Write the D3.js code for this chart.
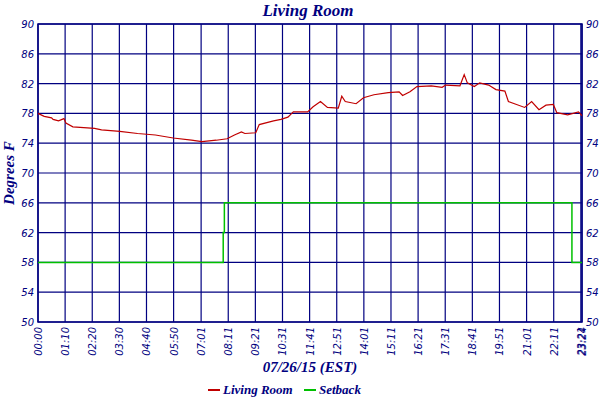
<!DOCTYPE html>
<html><head><meta charset="utf-8">
<script src="https://cdn.jsdelivr.net/npm/d3@7"></script>
<style>body{margin:0;background:#fff}</style>
</head><body><svg id="c" width="600" height="400"></svg>
<script>
const tempMinutes=[0,16,35,39,53,67,72,90,118,146,164,211,257,303,349,396,423,460,488,507,525,534,562,571,608,627,645,659,696,710,729,747,775,784,793,821,840,867,904,932,941,960,978,1015,1043,1052,1089,1100,1108,1126,1140,1163,1182,1205,1214,1256,1274,1293,1311,1330,1339,1367,1395,1404];
const tempValues=[78.0,77.6,77.4,77.2,77.0,77.3,76.7,76.2,76.1,76.0,75.8,75.6,75.3,75.1,74.7,74.4,74.2,74.4,74.6,75.1,75.5,75.3,75.4,76.5,77.0,77.2,77.5,78.2,78.2,78.9,79.6,78.8,78.7,80.3,79.6,79.3,80.1,80.5,80.8,80.9,80.4,80.9,81.6,81.7,81.5,81.8,81.7,83.2,82.1,81.6,82.1,81.8,81.2,81.0,79.6,78.8,79.6,78.5,79.1,79.2,78.1,77.8,78.2,77.7];
const setbackMinutes=[0,477,478,481,1377,1378,1404];
const setbackValues=[58,58,62,66,66,58,58];
const xTickLabels=["00:00","01:10","02:20","03:30","04:40","05:50","07:01","08:11","09:21","10:31","11:41","12:51","14:01","15:11","16:21","17:31","18:41","19:51","21:01","22:11","23:21","23:24"];
const yTicks=[50,54,58,62,66,70,74,78,82,86,90];
const navy="#000080";
const svg=d3.select("#c");
const L=38,R=582,T=24,B=322;
const toMin=s=>{const[a,b]=s.split(":").map(Number);return a*60+b;};
const x=d3.scaleLinear().domain([0,1404]).range([L,R]);
const y=d3.scaleLinear().domain([50,90]).range([B,T]);
const g=svg.append("g");
g.selectAll(".hy").data(yTicks).join("line").attr("x1",L).attr("x2",R).attr("y1",d=>y(d)).attr("y2",d=>y(d)).attr("stroke",navy).attr("stroke-width",1.2);
g.selectAll(".vx").data(xTickLabels).join("line").attr("x1",d=>x(toMin(d))).attr("x2",d=>x(toMin(d))).attr("y1",T).attr("y2",B).attr("stroke",navy).attr("stroke-width",1.2);
g.append("rect").attr("x",L).attr("y",T).attr("width",R-L).attr("height",B-T).attr("fill","none").attr("stroke",navy).attr("stroke-width",1.5);
const font="'DejaVu Sans',sans-serif";
g.selectAll(".yl").data(yTicks).join("text").attr("x",L-4).attr("y",d=>y(d)+4).attr("text-anchor","end").text(d=>d).attr("font-family",font).attr("font-style","italic").attr("font-size",10).attr("fill",navy);
g.selectAll(".yr").data(yTicks).join("text").attr("x",R+4).attr("y",d=>y(d)+4).attr("text-anchor","start").text(d=>d).attr("font-family",font).attr("font-style","italic").attr("font-size",10).attr("fill",navy);
g.selectAll(".xl").data(xTickLabels).join("text").attr("transform",d=>`translate(${x(toMin(d))+4},${B+5}) rotate(-90)`).attr("text-anchor","end").text(d=>d).attr("font-family",font).attr("font-style","italic").attr("font-size",10).attr("fill",navy);
const line=(xs,ys,c)=>d3.line().x((d,i)=>x(xs[i])).y(d=>y(d)).curve(c)(ys);
g.append("path").attr("d",line(setbackMinutes,setbackValues,d3.curveStepAfter)).attr("fill","none").attr("stroke","#00c000").attr("stroke-width",1.5);
g.append("path").attr("d",line(tempMinutes,tempValues,d3.curveLinear)).attr("fill","none").attr("stroke","#c00000").attr("stroke-width",1.2);
const tf="'Liberation Serif',serif";
svg.append("text").attr("x",308).attr("y",16).attr("text-anchor","middle").text("Living Room").attr("font-family",tf).attr("font-style","italic").attr("font-weight","bold").attr("font-size",17).attr("fill",navy);
svg.append("text").attr("transform","translate(14,173) rotate(-90)").attr("text-anchor","middle").text("Degrees F").attr("font-family",tf).attr("font-style","italic").attr("font-weight","bold").attr("font-size",15).attr("fill",navy);
svg.append("text").attr("x",310).attr("y",372).attr("text-anchor","middle").text("07/26/15 (EST)").attr("font-family",tf).attr("font-style","italic").attr("font-weight","bold").attr("font-size",15).attr("fill",navy);
const leg=[["Living Room","#c00000",208],["Setback","#00c000",304]];
leg.forEach(([t,c,lx])=>{
 svg.append("line").attr("x1",lx).attr("x2",lx+12).attr("y1",390).attr("y2",390).attr("stroke",c).attr("stroke-width",2);
 svg.append("text").attr("x",lx+15).attr("y",394).text(t).attr("font-family",tf).attr("font-style","italic").attr("font-weight","bold").attr("font-size",13).attr("fill",navy);
});
</script></body></html>
